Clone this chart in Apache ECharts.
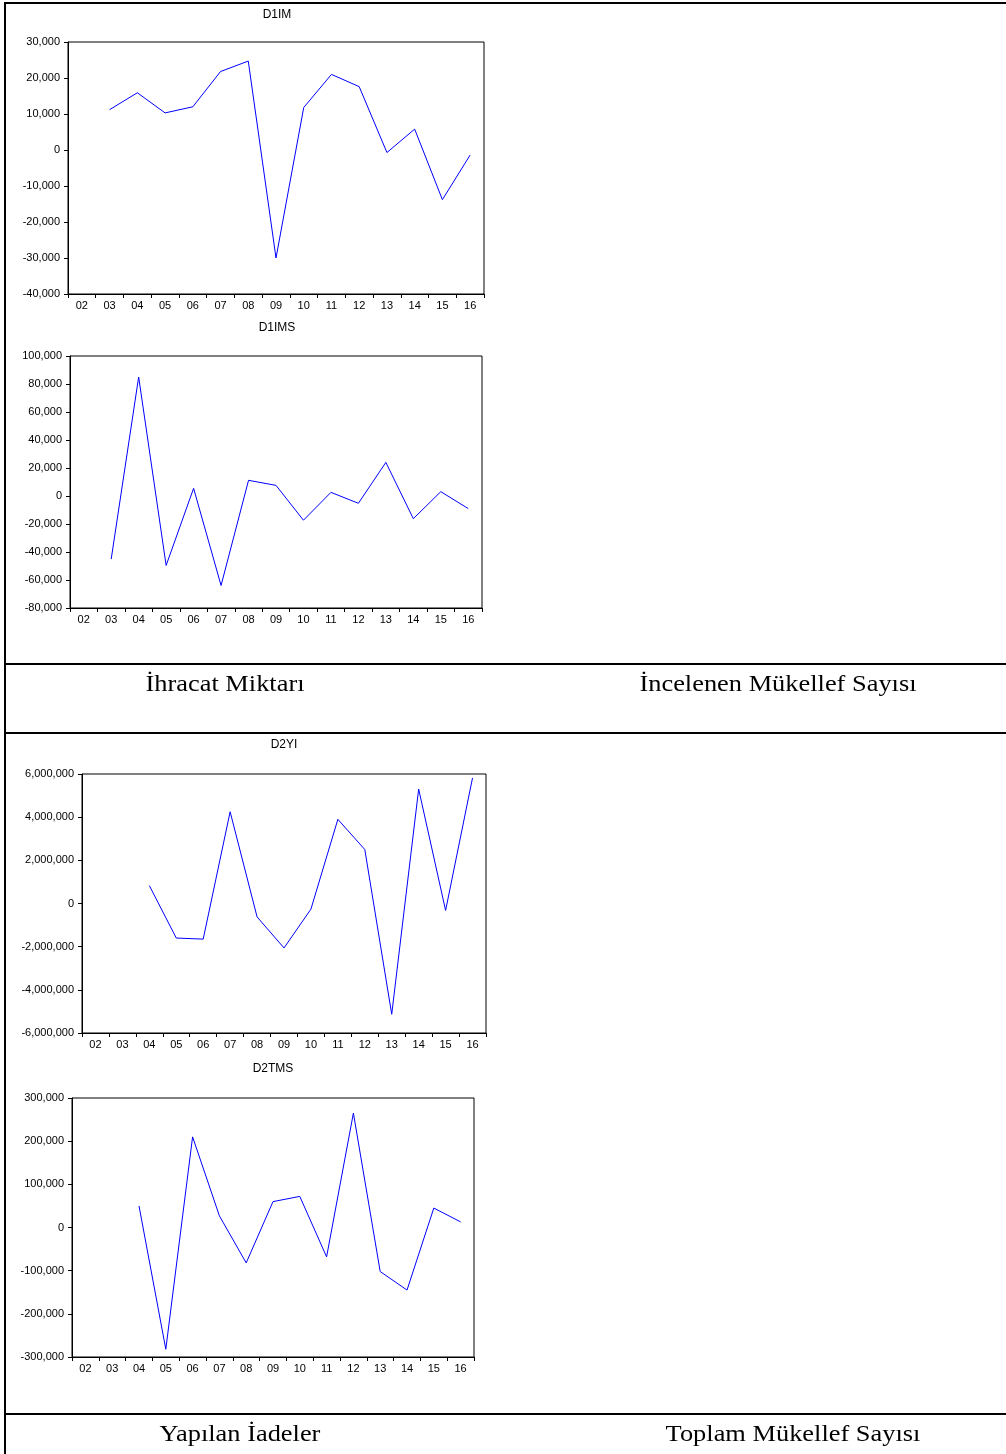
<!DOCTYPE html>
<html>
<head>
<meta charset="utf-8">
<script src="https://cdn.jsdelivr.net/npm/echarts@6/dist/echarts.min.js"></script>
<style>
html,body{margin:0;padding:0;background:#fff;}
#chart{width:1006px;height:1454px;}
</style>
</head>
<body>
<div id="chart"></div>
<script>
var categories = ['02','03','04','05','06','07','08','09','10','11','12','13','14','15','16'];
var d1im = [null, 11200, 15900, 10300, 12000, 21800, 24700, -30000, 11800, 21000, 17600, -700, 5800, -13800, -1400];
var d1ims = [null, -45100, 85000, -49600, 5500, -63900, 11200, 7600, -17300, 2600, -5200, 24000, -16200, 3100, -9000];
var d2yi = [null, null, 830000, -1600000, -1650000, 4250000, -620000, -2060000, -260000, 3900000, 2500000, -5130000, 5300000, -320000, 5820000];
var d2tms = [null, null, 50000, -282000, 210000, 27000, -82000, 60000, 72000, -68000, 265000, -102000, -145000, 45000, 13000];
var chartTitles = ['D1IM', 'D1IMS', 'D2YI', 'D2TMS'];
var captions = ['İhracat Miktarı', 'İncelenen Mükellef Sayısı', 'Yapılan İadeler', 'Toplam Mükellef Sayısı'];
var yRanges = [[-40000, 30000, 10000], [-80000, 100000, 20000], [-6000000, 6000000, 2000000], [-300000, 300000, 100000]];

var FONT = '"Liberation Sans", Arial, sans-serif';
var SERIF = '"Liberation Serif", "Times New Roman", serif';
var grids = [
  {left: 68, top: 42, width: 416, height: 252},
  {left: 70, top: 356, width: 412, height: 252},
  {left: 82, top: 774, width: 404, height: 259},
  {left: 72, top: 1098, width: 402, height: 259}
];
var titlePos = [[277, 9], [277, 322], [284, 739], [273, 1063]];
var captionPos = [[225, 673], [778, 673], [240, 1423], [793, 1423]];
var seriesData = [d1im, d1ims, d2yi, d2tms];

function fmt(v){
  var s = Math.abs(v).toString().replace(/\B(?=(\d{3})+(?!\d))/g, ',');
  return (v < 0 ? '-' : '') + s;
}

var lines = [
  {type: 'rect', shape: {x: 4, y: 2, width: 1002, height: 2}, style: {fill: '#000'}},
  {type: 'rect', shape: {x: 4, y: 2, width: 2, height: 1452}, style: {fill: '#000'}},
  {type: 'rect', shape: {x: 4, y: 663, width: 1002, height: 2}, style: {fill: '#000'}},
  {type: 'rect', shape: {x: 4, y: 732, width: 1002, height: 2}, style: {fill: '#000'}},
  {type: 'rect', shape: {x: 4, y: 1413, width: 1002, height: 2}, style: {fill: '#000'}}
];
var capTexts = captions.map(function(c, i){
  return {
    type: 'text', x: captionPos[i][0], y: captionPos[i][1], scaleX: 1.1, scaleY: 1,
    style: {text: c, x: 0, y: 0, align: 'center', verticalAlign: 'top', font: '24px ' + SERIF, fill: '#000'}
  };
});

var option = {
  backgroundColor: '#fff',
  animation: false,
  title: chartTitles.map(function(t, i){
    return {
      text: t,
      left: titlePos[i][0],
      top: titlePos[i][1],
      textAlign: 'center',
      padding: 0,
      textStyle: {fontFamily: FONT, fontSize: 12, fontWeight: 'normal', color: '#000'}
    };
  }),
  grid: grids.map(function(g){
    return Object.assign({show: true, borderColor: '#000', borderWidth: 1, containLabel: false}, g);
  }),
  xAxis: grids.map(function(g, i){
    return {
      type: 'category', gridIndex: i, data: categories, boundaryGap: true,
      axisLine: {onZero: false, lineStyle: {color: '#000', width: 1}},
      axisTick: {show: true, alignWithLabel: false, length: 4, lineStyle: {color: '#000'}},
      axisLabel: {fontFamily: FONT, fontSize: 11, color: '#000', margin: 6, interval: 0},
      splitLine: {show: false}
    };
  }),
  yAxis: grids.map(function(g, i){
    return {
      type: 'value', gridIndex: i, min: yRanges[i][0], max: yRanges[i][1], interval: yRanges[i][2],
      axisLine: {show: true, onZero: false, lineStyle: {color: '#000', width: 1}},
      axisTick: {show: true, length: 4, lineStyle: {color: '#000'}},
      axisLabel: {fontFamily: FONT, fontSize: 11, color: '#000', margin: 8, formatter: fmt},
      splitLine: {show: false}
    };
  }),
  series: seriesData.map(function(d, i){
    return {
      type: 'line', xAxisIndex: i, yAxisIndex: i, data: d, showSymbol: false, symbol: 'none',
      connectNulls: false,
      lineStyle: {color: '#0000ff', width: 1}
    };
  }),
  graphic: lines.concat(capTexts)
};
var chart = echarts.init(document.getElementById('chart'), null, {renderer: 'canvas'});
chart.setOption(option);
</script>
</body>
</html>
